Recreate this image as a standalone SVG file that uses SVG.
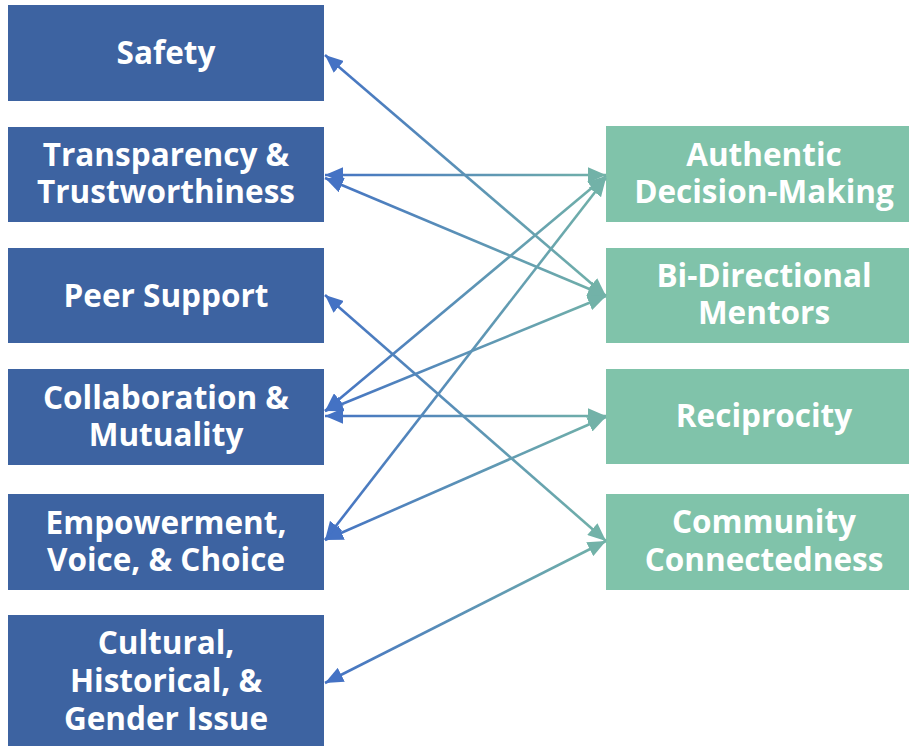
<svg xmlns="http://www.w3.org/2000/svg" width="909" height="747" viewBox="0 0 909 747">
<style>
.l{fill:#3D63A1}
.r{fill:#80C3AA}
text{font-family:"Open Sans","Noto Sans","Liberation Sans",sans-serif;font-weight:bold;font-size:31.5px;fill:#fff;text-anchor:middle}
.c{fill:none;stroke:url(#g);stroke-width:2.6;marker-start:url(#ms);marker-end:url(#me)}
</style>
<defs>
<linearGradient id="g" gradientUnits="userSpaceOnUse" x1="324" y1="0" x2="606" y2="0">
<stop offset="0" stop-color="#4472C4"/>
<stop offset="1" stop-color="#72B2A8"/>
</linearGradient>
<marker id="ms" markerWidth="7" markerHeight="6" refX="0" refY="3" orient="auto" markerUnits="strokeWidth" viewBox="0 0 7 6">
<path d="M0,3 L7,0 L7,6 Z" fill="#4472C4"/>
</marker>
<marker id="me" markerWidth="7" markerHeight="6" refX="7" refY="3" orient="auto" markerUnits="strokeWidth" viewBox="0 0 7 6">
<path d="M7,3 L0,0 L0,6 Z" fill="#72B2A8"/>
</marker>
</defs>
<g id="n-safety"><rect class="l" x="8" y="5" width="316" height="96"/><text x="166" y="64">Safety</text></g>
<g id="n-transparency"><rect class="l" x="8" y="127" width="316" height="95"/><text x="166" y="166">Transparency &amp;</text><text x="166" y="203">Trustworthiness</text></g>
<g id="n-peer"><rect class="l" x="8" y="248" width="316" height="95"/><text x="166" y="307">Peer Support</text></g>
<g id="n-collab"><rect class="l" x="8" y="369" width="316" height="96"/><text x="166" y="409">Collaboration &amp;</text><text x="166" y="446">Mutuality</text></g>
<g id="n-empower"><rect class="l" x="8" y="494" width="316" height="96"/><text x="166" y="534">Empowerment,</text><text x="166" y="571">Voice, &amp; Choice</text></g>
<g id="n-cultural"><rect class="l" x="8" y="615" width="316" height="131"/><text x="166" y="654">Cultural,</text><text x="166" y="692">Historical, &amp;</text><text x="166" y="730">Gender Issue</text></g>
<g id="n-authentic"><rect class="r" x="606" y="126" width="303" height="96"/><text x="764" y="166">Authentic</text><text x="764" y="203">Decision-Making</text></g>
<g id="n-bidir"><rect class="r" x="606" y="248" width="303" height="95"/><text x="764" y="287">Bi-Directional</text><text x="764" y="324">Mentors</text></g>
<g id="n-recip"><rect class="r" x="606" y="369" width="303" height="95"/><text x="764" y="427">Reciprocity</text></g>
<g id="n-community"><rect class="r" x="606" y="494" width="303" height="96"/><text x="764" y="533">Community</text><text x="764" y="571">Connectedness</text></g>
<g id="connectors">
<path class="c" d="M325,55 L606,296"/>
<path class="c" d="M325,175 L606,175"/>
<path class="c" d="M325,178 L606,296"/>
<path class="c" d="M325,295 L606,541"/>
<path class="c" d="M325,411 L606,176"/>
<path class="c" d="M325,411 L606,296"/>
<path class="c" d="M325,416 L606,416"/>
<path class="c" d="M325,540 L606,178"/>
<path class="c" d="M325,540 L606,417"/>
<path class="c" d="M325,683 L606,541"/>
</g>
</svg>
